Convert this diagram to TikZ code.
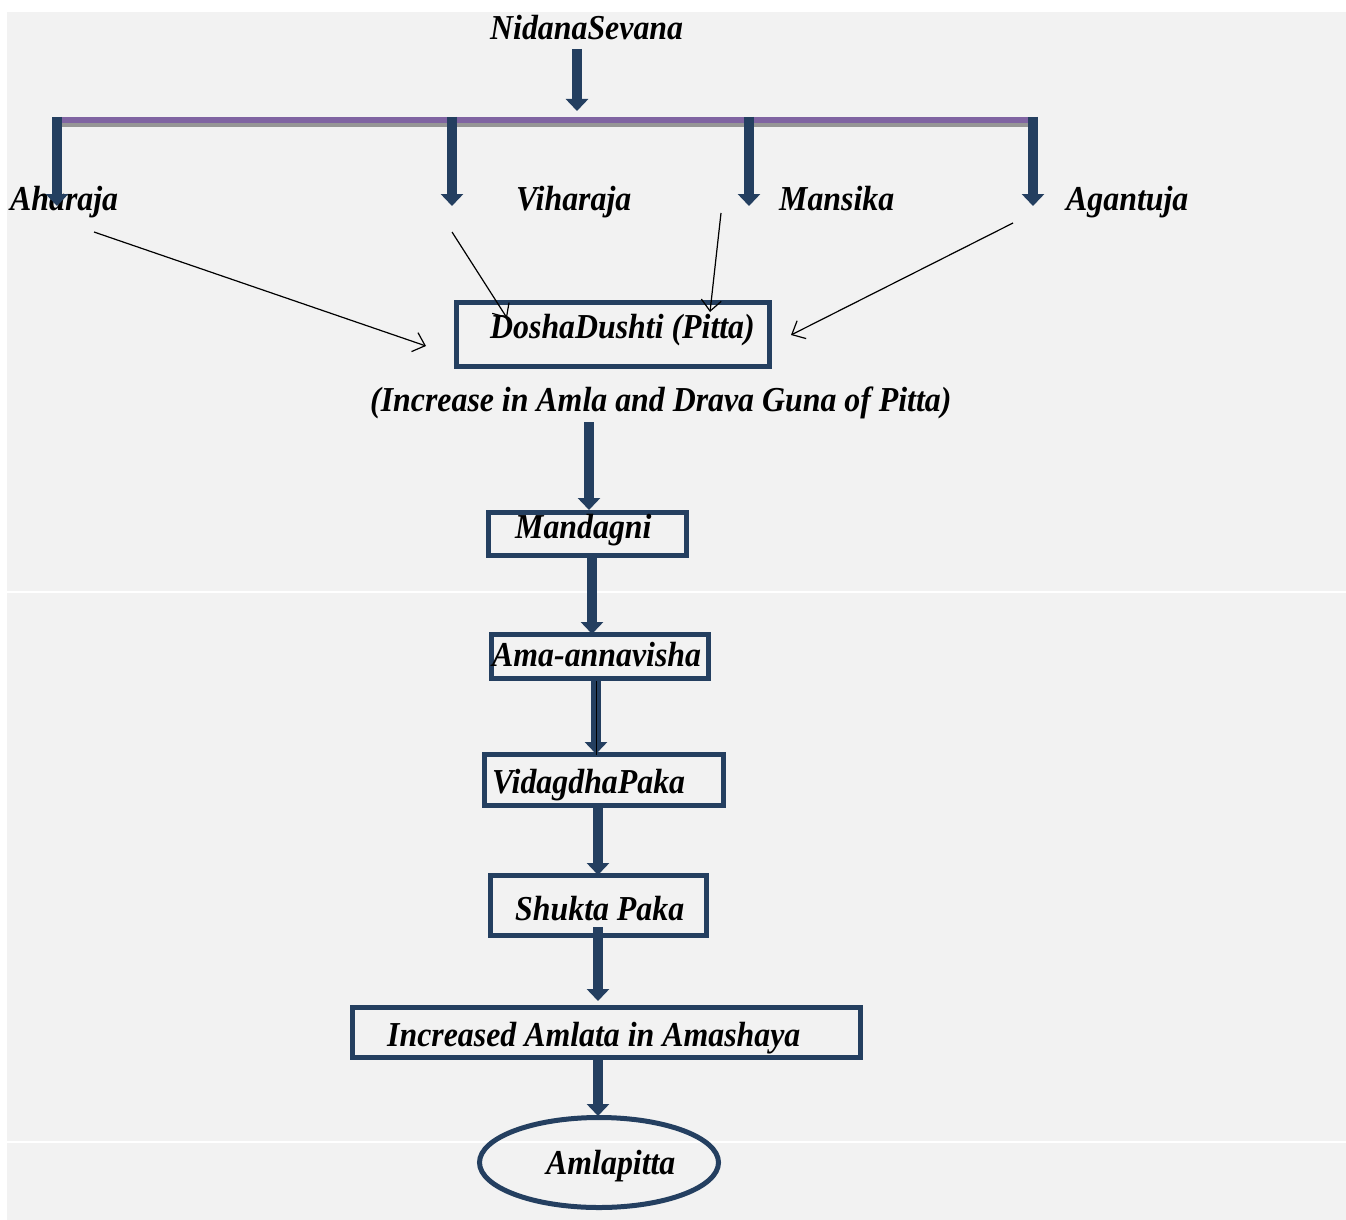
\documentclass[tikz,border=0pt]{standalone}
\usepackage{fontspec}
\newfontfamily\tnr{Liberation Serif}[FakeStretch=0.91]
\usetikzlibrary{arrows.meta,shapes.geometric}
\definecolor{navy}{RGB}{36,63,96}
\definecolor{purp}{RGB}{128,100,162}
\definecolor{shad}{RGB}{150,150,150}
\definecolor{bgc}{RGB}{242,242,242}
\begin{document}
\begin{tikzpicture}[x=1pt,y=-1pt,
  lbl/.style={font=\tnr\bfseries\itshape\fontsize{35}{40}\selectfont, inner sep=0pt, anchor=base west},
  boxn/.style={draw=navy, line width=5pt, inner sep=0pt, rectangle},
  fat/.style={draw=navy, line width=10pt, -{Triangle[width=22pt,length=12pt]}},
  thinarr/.style={draw=black, line width=1.2pt, -{Straight Barb[length=11pt,width=20pt]}}]
\useasboundingbox (0,0) rectangle (1346,1220);
% background
\fill[white] (0,0) rectangle (1346,1220);
\fill[bgc] (7,12) rectangle (1346,591);
\fill[bgc] (7,593) rectangle (1346,1141);
\fill[bgc] (7,1143) rectangle (1346,1220);

% labels
\node[lbl] (nid) at (490,40) {NidanaSevana};
\node[lbl] (ahar) at (10,210) {Aharaja};
\node[lbl] (vihar) at (516,210) {Viharaja};
\node[lbl] (mans) at (779,210) {Mansika};
\node[lbl] (agan) at (1066,210) {Agantuja};

% boxes
\node[boxn, minimum width=313pt, minimum height=64pt] (dosha) at (613,334.5) {};
\node[lbl] (tdosha) at (490,338) {DoshaDushti (Pitta)};
\node[lbl] (incr) at (370,411) {(Increase in Amla and Drava Guna of Pitta)};
\node[boxn, minimum width=198pt, minimum height=43pt] (mand) at (587.5,534) {};
\node[lbl] (tmand) at (515,538) {Mandagni};
\node[boxn, minimum width=217pt, minimum height=44pt] (ama) at (600,656.5) {};
\node[lbl] (tama) at (492,666) {Ama-annavisha};
\node[boxn, minimum width=239pt, minimum height=51pt] (vid) at (604,780) {};
\node[lbl] (tvid) at (492,793) {VidagdhaPaka};
\node[boxn, minimum width=216pt, minimum height=60pt] (shuk) at (598.5,905.5) {};
\node[lbl] (tshuk) at (515,920) {Shukta Paka};
\node[boxn, minimum width=508pt, minimum height=50pt] (amla) at (606.5,1032.5) {};
\node[lbl] (tamla) at (387,1046) {Increased Amlata in Amashaya};
\node[draw=navy, line width=5pt, ellipse, inner sep=0pt, minimum width=239pt, minimum height=90pt] (final) at (599,1162.5) {};
\node[lbl] (tfinal) at (546,1174) {Amlapitta};

% bar
\coordinate (barL) at (57,120);
\coordinate (barR) at (1036,120);
\draw[shad, line width=4pt] ([yshift=-5pt]barL) -- ([yshift=-5pt]barR);
\draw[purp, line width=6pt] (barL) -- (barR);

% coordinates for fat arrows
\coordinate (n0) at (577,49);
\coordinate (n1) at (577,111);
\coordinate (a0) at (57,117);  \coordinate (a1) at (57,206);
\coordinate (v0) at (452,117); \coordinate (v1) at (452,206);
\coordinate (m0) at (749,117); \coordinate (m1) at (749,206);
\coordinate (g0) at (1033,117); \coordinate (g1) at (1033,206);
\draw[fat] (n0) -- (n1);
\draw[fat] (a0) -- (a1);
\draw[fat] (v0) -- (v1);
\draw[fat] (m0) -- (m1);
\draw[fat] (g0) -- (g1);

% thin arrows into DoshaDushti
\coordinate (ta0) at (94,232);  \coordinate (ta1) at (426,346);
\coordinate (tv0) at (452,232); \coordinate (tv1) at (507,318);
\coordinate (tm0) at (721,213); \coordinate (tm1) at (710,312);
\coordinate (tg0) at (1013,223); \coordinate (tg1) at (791,335);
\draw[thinarr] (ta0) -- (ta1);
\draw[thinarr] (tv0) -- (tv1);
\draw[thinarr] (tm0) -- (tm1);
\draw[thinarr] (tg0) -- (tg1);

% chain arrows
\coordinate (c0) at (589,422);
\draw[fat] (c0) -- ([xshift=1.5pt]mand.north);
\draw[fat] ([xshift=4.5pt]mand.south) -- ([xshift=-8pt,yshift=-2pt]ama.north);
\draw[fat] ([xshift=-4pt]ama.south) -- ([xshift=-8pt,yshift=-2pt]vid.north);
\draw[black, line width=1pt] ([xshift=-4pt]ama.south) -- ([xshift=-8pt,yshift=-3pt]vid.north);
\draw[fat] ([xshift=-6pt]vid.south) -- ([xshift=-0.5pt,yshift=-2pt]shuk.north);
\draw[fat] ([xshift=-0.5pt,yshift=11pt]shuk.south) -- ([xshift=-8.5pt,yshift=4pt]amla.north);
\draw[fat] ([xshift=-8.5pt]amla.south) -- ([xshift=-1pt,yshift=-1pt]final.north);
\end{tikzpicture}
\end{document}
